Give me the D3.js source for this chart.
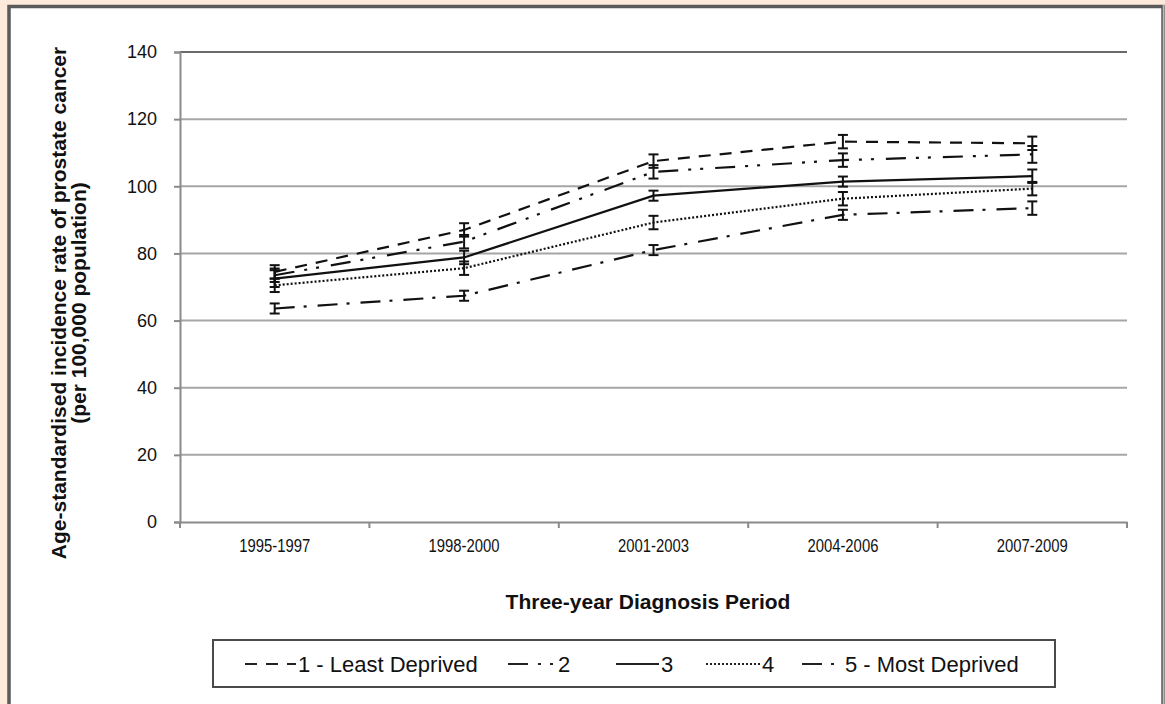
<!DOCTYPE html>
<html>
<head>
<meta charset="utf-8">
<script src="https://cdn.jsdelivr.net/npm/d3@7"></script>
<style>
  html, body { margin: 0; padding: 0; background: #fdeadb; }
  svg { display: block; }
  text { font-family: "Liberation Sans", Arial, sans-serif; fill: #111; }
</style>
</head>
<body>
<svg id="chart" width="1165" height="704"></svg>
<script>
// ---- data ----
const periods = ["1995-1997", "1998-2000", "2001-2003", "2004-2006", "2007-2009"];
const seriesNames = ["1 - Least Deprived", "2", "3", "4", "5 - Most Deprived"];
const q1 = [74.5, 87.0, 107.5, 113.3, 112.8];
const q2 = [73.5, 83.5, 104.3, 107.8, 109.5];
const q3 = [72.5, 78.8, 97.2, 101.4, 103.0];
const q4 = [70.5, 75.6, 89.2, 96.3, 99.3];
const q5 = [63.6, 67.4, 81.0, 91.5, 93.5];
const e1 = [2.0, 2.0, 2.0, 2.0, 2.0];
const e2 = [2.0, 2.0, 2.0, 2.0, 2.5];
const e3 = [2.5, 2.0, 1.5, 1.5, 2.0];
const e4 = [2.0, 2.0, 2.0, 2.0, 2.0];
const e5 = [1.5, 1.5, 1.5, 1.5, 2.0];
const yTicks = [0, 20, 40, 60, 80, 100, 120, 140];

(function () {
const seriesValues = [q1, q2, q3, q4, q5];
const seriesErrors = [e1, e2, e3, e4, e5];
const dashes = ["12,9", "20,10,3,9,3,12", null, "2,2", "20,9,3,11"];

const svg = d3.select("#chart");

// outer panel
svg.append("rect").attr("x", 9).attr("y", 6.5).attr("width", 1154).attr("height", 720)
  .attr("fill", "#fff").attr("stroke", "#5a5a5a").attr("stroke-width", 3.5);
svg.append("line").attr("x1", 1163.5).attr("x2", 1163.5).attr("y1", 5).attr("y2", 704)
  .attr("stroke", "#bbb").attr("stroke-width", 1.5);

const pLeft = 180, pRight = 1127, pTop = 52, pBottom = 522;
const x = d3.scaleBand().domain(periods).range([pLeft, pRight]);
const y = d3.scaleLinear().domain([0, 140]).range([pBottom, pTop]);
const cx = p => x(p) + x.bandwidth() / 2;

// gridlines
svg.append("g").selectAll("line").data(yTicks.filter(t => t > 0)).join("line")
  .attr("x1", pLeft).attr("x2", pRight)
  .attr("y1", d => y(d)).attr("y2", d => y(d))
  .attr("stroke", d => d === 140 ? "#6a6a6a" : "#a6a6a6").attr("stroke-width", 2);

// y axis
const yAxis = svg.append("g").attr("transform", `translate(${pLeft},0)`)
  .call(d3.axisLeft(y).tickValues(yTicks).tickSize(6).tickPadding(17).tickFormat(d3.format("d")));
yAxis.select(".domain").attr("stroke", "#8a8a8a").attr("stroke-width", 2);
yAxis.selectAll(".tick line").attr("stroke", "#8a8a8a").attr("stroke-width", 2);
yAxis.selectAll(".tick text").style("font-size", "18px").attr("fill", "#111");

// x axis
const xAxis = svg.append("g").attr("transform", `translate(0,${pBottom})`)
  .call(d3.axisBottom(x).tickSize(0).tickPadding(17));
xAxis.select(".domain").attr("stroke", "#8a8a8a").attr("stroke-width", 2);
xAxis.selectAll(".tick text").style("font-size", "19px").attr("fill", "#111")
  .attr("textLength", 71).attr("lengthAdjust", "spacingAndGlyphs");
// boundary tick marks
xAxis.append("g").selectAll("line").data(periods.concat(["__end"])).join("line")
  .attr("x1", (d, i) => pLeft + i * x.bandwidth()).attr("x2", (d, i) => pLeft + i * x.bandwidth())
  .attr("y1", 0).attr("y2", 6).attr("stroke", "#8a8a8a").attr("stroke-width", 2);

// lines
const line = d3.line().x((d, i) => cx(periods[i])).y(d => y(d));
seriesValues.forEach((vals, s) => {
  svg.append("path").datum(vals).attr("d", line)
    .attr("fill", "none").attr("stroke", "#111").attr("stroke-width", 2.2)
    .attr("stroke-dasharray", dashes[s]);
});

// error bars
seriesValues.forEach((vals, s) => {
  const g = svg.append("g").attr("stroke", "#111").attr("stroke-width", 2);
  vals.forEach((v, i) => {
    const px = cx(periods[i]);
    const lo = v - seriesErrors[s][i], hi = v + seriesErrors[s][i];
    g.append("line").attr("x1", px).attr("x2", px).attr("y1", y(lo)).attr("y2", y(hi));
    g.append("line").attr("x1", px - 5).attr("x2", px + 5).attr("y1", y(lo)).attr("y2", y(lo));
    g.append("line").attr("x1", px - 5).attr("x2", px + 5).attr("y1", y(hi)).attr("y2", y(hi));
  });
});

// axis titles
svg.append("text").attr("x", 648).attr("y", 609)
  .attr("text-anchor", "middle").style("font-size", "21px").style("font-weight", "bold")
  .text("Three-year Diagnosis Period");

const yt = svg.append("text").attr("transform", "translate(66,303) rotate(-90)")
  .attr("text-anchor", "middle").style("font-size", "21px").style("font-weight", "bold");
yt.append("tspan").attr("x", 0).attr("y", 0).text("Age-standardised incidence rate of prostate cancer");
yt.append("tspan").attr("x", 0).attr("y", 20).text("(per 100,000 population)");

// legend
svg.append("rect").attr("x", 213).attr("y", 640).attr("width", 842).attr("height", 47)
  .attr("fill", "#fff").attr("stroke", "#4a4a4a").attr("stroke-width", 2);
const legendItems = [
  { x0: 245, x1: 296 }, { x0: 508, x1: 556 }, { x0: 616, x1: 659 },
  { x0: 706, x1: 760 }, { x0: 802, x1: 843 }
];
const ly = 664;
seriesNames.forEach((name, s) => {
  const it = legendItems[s];
  svg.append("line").attr("x1", it.x0).attr("x2", it.x1).attr("y1", ly).attr("y2", ly)
    .attr("stroke", "#222").attr("stroke-width", 2.2).attr("stroke-dasharray", dashes[s]);
  svg.append("text").attr("x", it.x1 + 2).attr("y", ly).attr("dy", "0.35em")
    .style("font-size", "22px").text(name);
});
})();
</script>
</body>
</html>
